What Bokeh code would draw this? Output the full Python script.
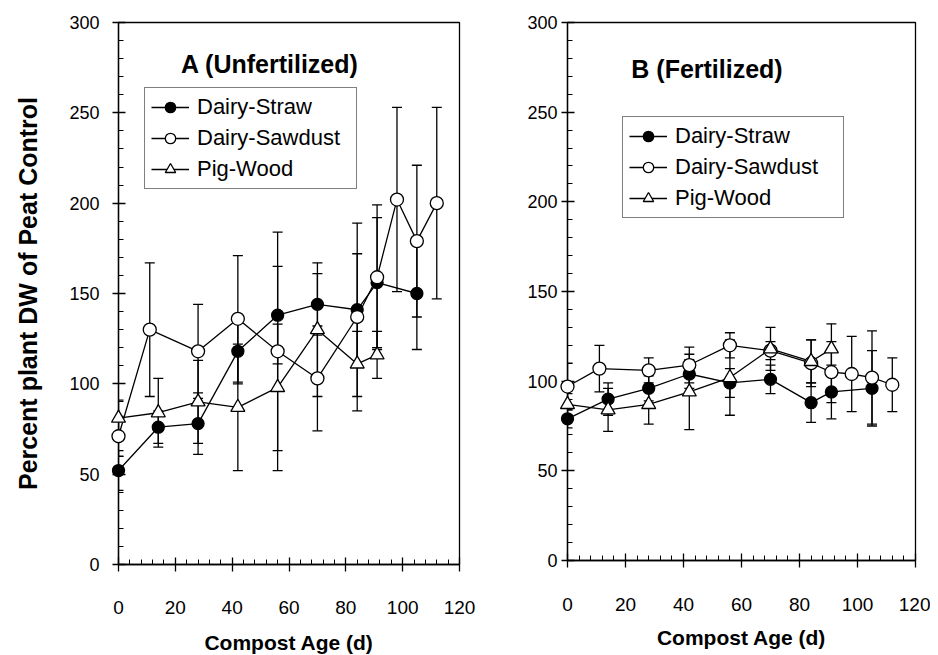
from bokeh.plotting import figure
from bokeh.layouts import row
from bokeh.models import (FixedTicker, Whisker, TeeHead, ColumnDataSource, Legend,
                          LegendItem, Label, Range1d)
from bokeh.embed import file_html
from bokeh.resources import INLINE

# ---------------- data ----------------
series_names = ["Dairy-Straw", "Dairy-Sawdust", "Pig-Wood"]

days_straw = [0, 14, 28, 42, 56, 70, 84, 91, 105]
days_sawdust = [0, 11, 28, 42, 56, 70, 84, 91, 98, 105, 112]
days_pig = [0, 14, 28, 42, 56, 70, 84, 91]

# Panel A (Unfertilized)
A_straw = [52, 76, 78, 118, 138, 144, 141, 156, 150]
A_straw_err = [11, 9, 17, 18, 27, 17, 31, 36, 31]
A_sawdust = [71, 130, 118, 136, 118, 103, 137, 159, 202, 179, 200]
A_sawdust_err = [11, 37, 26, 35, 66, 29, 52, 40, 51, 42, 53]
A_pig = [81, 84, 90, 87, 98, 130, 111, 116]
A_pig_err = [10, 19, 23, 35, 35, 37, 18, 13]

# Panel B (Fertilized)
B_straw = [79, 90, 96, 104, 99, 101, 88, 94, 96]
B_straw_err = [5, 9, 7, 8, 8, 8, 11, 15, 21]
B_sawdust = [97, 107, 106, 109, 120, 117, 110, 105, 104, 102, 98]
B_sawdust_err = [13, 13, 7, 10, 7, 5, 13, 17, 21, 26, 15]
B_pig = [87, 84, 87, 94, 102, 118, 111, 118]
B_pig_err = [6, 12, 11, 21, 21, 12, 12, 14]

x_major_ticks = [0, 20, 40, 60, 80, 100, 120]
x_minor_ticks = list(range(0, 121, 4))
y_major_ticks = [0, 50, 100, 150, 200, 250, 300]
y_minor_ticks = list(range(0, 301, 10))

FONT = "Liberation Sans"


def make_panel(title, straw, straw_err, saw, saw_err, pig, pig_err, geom):
    p = figure(frame_width=geom["fw"], frame_height=geom["fh"],
               x_range=Range1d(0, 120), y_range=Range1d(0, 300),
               output_backend="svg", toolbar_location=None,
               min_border_left=geom["bl"], min_border_right=geom["br"],
               min_border_top=geom["bt"], min_border_bottom=geom["bb"])
    p.xgrid.visible = False
    p.ygrid.visible = False
    p.outline_line_color = "black"
    p.outline_line_width = 1.3
    p.background_fill_color = "white"
    p.border_fill_color = "white"

    for ax in (p.xaxis[0], p.yaxis[0]):
        ax.axis_line_color = "black"
        ax.axis_line_width = 1.3
        ax.major_tick_line_color = "black"
        ax.major_tick_line_width = 1.3
        ax.minor_tick_line_color = "black"
        ax.minor_tick_line_width = 1.0
        ax.minor_tick_out = 0
        ax.minor_tick_in = 5
        ax.major_label_text_font = FONT
        ax.major_label_text_color = "black"
        ax.axis_label_text_font = FONT
        ax.axis_label_text_font_style = "bold"
        ax.axis_label_text_color = "black"

    p.xaxis.ticker = FixedTicker(ticks=x_major_ticks, minor_ticks=x_minor_ticks)
    p.yaxis.ticker = FixedTicker(ticks=y_major_ticks, minor_ticks=y_minor_ticks)
    p.xaxis.major_tick_in = 7
    p.xaxis.major_tick_out = 7
    p.yaxis.major_tick_in = 7
    p.yaxis.major_tick_out = 6
    p.xaxis.major_label_text_font_size = "19px"
    p.yaxis.major_label_text_font_size = "18px"
    p.xaxis.major_label_standoff = geom["xls"]
    p.yaxis.major_label_standoff = geom["yls"]
    p.xaxis.axis_label = "Compost Age (d)"
    p.xaxis.axis_label_text_font_size = "21px"
    p.xaxis.axis_label_standoff = geom["xts"]
    if geom.get("ylabel"):
        p.yaxis.axis_label = "Percent plant DW of Peat Control"
        p.yaxis.axis_label_text_font_size = "25px"
        p.yaxis.axis_label_standoff = 24

    items = []
    specs = [
        (days_straw, straw, straw_err, "circle", 12, "black"),
        (days_sawdust, saw, saw_err, "circle", 13, "white"),
        (days_pig, pig, pig_err, "triangle", 14, "white"),
    ]
    for name, (xs, ys, es, marker, size, fill) in zip(series_names, specs):
        src = ColumnDataSource(dict(x=xs, y=ys,
                                    upper=[a + b for a, b in zip(ys, es)],
                                    lower=[a - b for a, b in zip(ys, es)]))
        w = Whisker(source=src, base="x", upper="upper", lower="lower",
                    dimension="height", line_color="black", line_width=1.3,
                    upper_head=TeeHead(size=10, line_color="black", line_width=1.3),
                    lower_head=TeeHead(size=10, line_color="black", line_width=1.3))
        p.add_layout(w)
        lr = p.line("x", "y", source=src, line_color="black", line_width=1.3)
        sr = p.scatter("x", "y", source=src, marker=marker, size=size,
                       fill_color=fill, line_color="black", line_width=1.3,
                       level="overlay")
        items.append(LegendItem(label=name, renderers=[lr, sr]))

    leg = Legend(items=items, location=geom["legloc"], orientation="vertical",
                 border_line_color="black", border_line_width=1.2,
                 background_fill_color="white", background_fill_alpha=1.0,
                 label_text_font=FONT, label_text_font_size="22px",
                 label_text_color="black",
                 glyph_width=38, glyph_height=26, label_height=26,
                 label_width=geom["lw"], label_standoff=8,
                 spacing=5, padding=6, margin=0)
    p.add_layout(leg, "center")

    p.add_layout(Label(x=geom["tx"], y=geom["ty"], text=title,
                       text_font=FONT, text_font_style="bold",
                       text_font_size="25px", text_color="black",
                       text_baseline="middle", text_align="left"))
    return p


geomA = dict(fw=341, fh=542, bl=118, br=39, bt=22, bb=84, xls=29, yls=13, xts=14,
             ylabel=True, legloc=(26, 375), lw=153, tx=22, ty=277)
geomB = dict(fw=348, fh=538, bl=69, br=15, bt=21, bb=89, xls=30, yls=4, xts=12,
             ylabel=False, legloc=(55, 342), lw=162, tx=22, ty=274)

pA = make_panel("A (Unfertilized)", A_straw, A_straw_err, A_sawdust, A_sawdust_err,
                A_pig, A_pig_err, geomA)
pB = make_panel("B (Fertilized)", B_straw, B_straw_err, B_sawdust, B_sawdust_err,
                B_pig, B_pig_err, geomB)

layout = row(pA, pB)
open("out.html", "w").write(file_html(layout, INLINE))
